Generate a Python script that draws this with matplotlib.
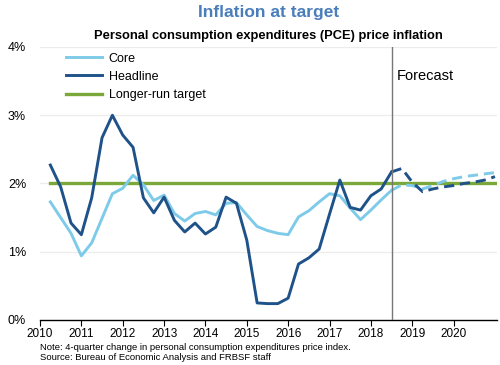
import numpy as np
import matplotlib.pyplot as plt

plt.rcParams['font.family'] = ['Liberation Sans', 'DejaVu Sans']

# quarterly data, plotted at end of quarter
hist_x = [2010.25 + 0.25 * i for i in range(34)]  # 2010.25 .. 2018.5
core = [1.73, 1.50, 1.27, 0.94, 1.13, 1.49, 1.85, 1.93, 2.12, 1.98, 1.75, 1.83,
        1.56, 1.45, 1.56, 1.59, 1.54, 1.71, 1.72, 1.54, 1.37, 1.31, 1.27, 1.25,
        1.51, 1.60, 1.73, 1.85, 1.82, 1.64, 1.47, 1.61, 1.76, 1.90]
headline = [2.27, 1.95, 1.42, 1.25, 1.79, 2.67, 3.00, 2.71, 2.53, 1.79, 1.57, 1.80,
            1.46, 1.29, 1.42, 1.26, 1.36, 1.80, 1.71, 1.17, 0.25, 0.24, 0.24, 0.32,
            0.82, 0.91, 1.04, 1.55, 2.05, 1.65, 1.61, 1.82, 1.92, 2.17]

fc_x = [2018.5 + 0.25 * i for i in range(11)]  # 2018.5 .. 2021.0
core_fc = [1.90, 1.98, 1.97, 1.92, 1.97, 2.03, 2.07, 2.10, 2.12, 2.14, 2.16]
headline_fc = [2.17, 2.22, 2.02, 1.88, 1.92, 1.95, 1.97, 2.00, 2.02, 2.05, 2.10]

target = 2.0
forecast_start = 2018.5
years = list(range(2010, 2021))

core_col = '#7ecbe9'
head_col = '#1f5289'
target_col = '#7aa83a'

fig = plt.figure(figsize=(5, 3.65), dpi=100)
ax = fig.add_axes([0.08, 0.1233, 0.914, 0.748])

for v in [1, 2, 3, 4]:
    ax.axhline(v, color='#ececec', lw=0.9, zorder=0)

ax.plot([hist_x[0], 2021.1], [target, target], color=target_col, lw=2.4,
        label='Longer-run target', zorder=2)
ax.plot(hist_x, core, color=core_col, lw=2.1, label='Core', zorder=3)
ax.plot(hist_x, headline, color=head_col, lw=2.1, label='Headline', zorder=4)
ax.plot(fc_x, core_fc, color=core_col, lw=2.1, ls=(0, (3.5, 2)), zorder=3)
ax.plot(fc_x, headline_fc, color=head_col, lw=2.1, ls=(0, (3.5, 2)), zorder=4)

ax.axvline(forecast_start, color='#777777', lw=1.0, zorder=5)
ax.text(forecast_start + 0.12, 3.58, 'Forecast', fontsize=10.5, va='center')

ax.set_xlim(2010, 2021.05)
ax.set_ylim(0, 4)
ax.set_xticks(years)
ax.set_xticklabels([str(y) for y in years], fontsize=8.5)
ax.set_yticks([0, 1, 2, 3, 4])
ax.set_yticklabels(['0%', '1%', '2%', '3%', '4%'], fontsize=9)
ax.tick_params(axis='y', length=0, pad=10)
ax.tick_params(axis='x', direction='out', length=4, width=0.8, pad=2)
for s in ['top', 'right', 'left']:
    ax.spines[s].set_visible(False)
ax.spines['bottom'].set_linewidth(1.0)

h, l = ax.get_legend_handles_labels()
order = [1, 2, 0]
ax.legend([h[i] for i in order], [l[i] for i in order], loc='upper left',
          bbox_to_anchor=(0.045, 0.998), frameon=False, fontsize=9,
          handlelength=2.9, handletextpad=0.55, labelspacing=0.5, borderaxespad=0)

fig.text(0.537, 0.965, 'Inflation at target', ha='center', va='center',
         fontsize=12.5, fontweight='bold', color='#4a7ebb')
fig.text(0.537, 0.9, 'Personal consumption expenditures (PCE) price inflation',
         ha='center', va='center', fontsize=9.3, fontweight='bold')
fig.text(0.08, 0.048, 'Note: 4-quarter change in personal consumption expenditures price index.',
         fontsize=6.8, va='center')
fig.text(0.08, 0.02, 'Source: Bureau of Economic Analysis and FRBSF staff',
         fontsize=6.8, va='center')

fig.savefig('out.png', dpi=100)
